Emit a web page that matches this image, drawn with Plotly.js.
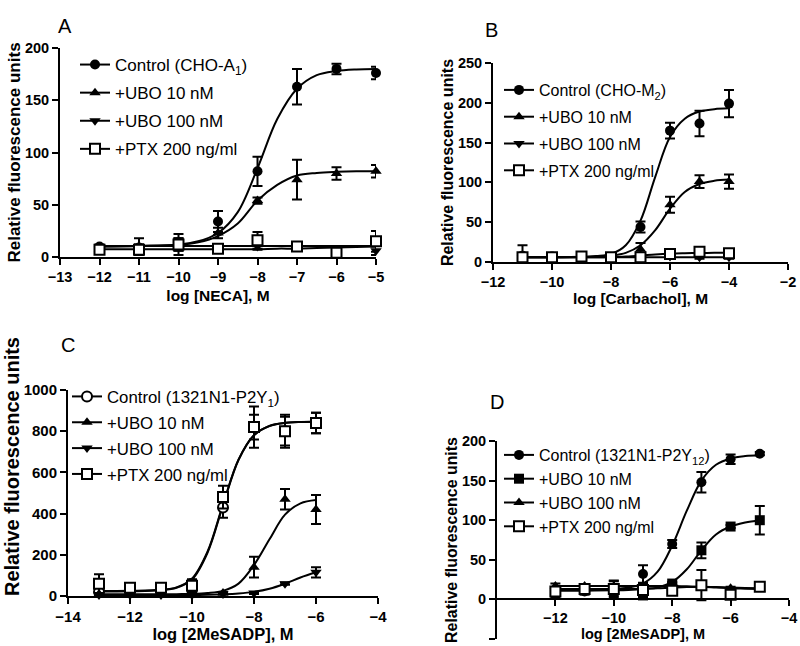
<!DOCTYPE html>
<html>
<head>
<meta charset="utf-8">
<script src="https://cdn.plot.ly/plotly-3.0.1.min.js"></script>
<style>html,body{margin:0;padding:0;background:#fff}#chart{width:800px;height:646px}</style>
</head>
<body>
<div id="chart"></div>
<script>
// ---------------- Panel A : NECA ----------------
const xA = [-12, -11, -10, -9, -8, -7, -6, -5];
const A_ctrl = [10, 9, 14, 34, 82, 163, 180, 176];
const A_ctrl_err = [2, 3, 8, 10, 14, 17, 5, 6];
const A_ubo10 = [8, 9, 12, 23, 54, 74, 80, 82];
const A_ubo10_err = [2, 3, 5, 5, 3, 19, 6, 6];
const A_ubo100 = [8, 10, 10, 8, 10, 10, 8, 6];
const A_ubo100_err = [2, 8, 8, 2, 3, 2, 2, 4];
const A_ptx = [7, 7, 12, 8, 16, 10, 4, 15];
const A_ptx_err = [2, 3, 6, 2, 8, 2, 3, 10];
const xcA = [-12, -11, -10, -9.5, -9, -8.5, -8, -7.5, -7, -6.5, -6, -5.5, -5];
const A_ctrl_fit = [10, 10.5, 12, 15, 23, 43, 85, 132, 161, 174, 178, 179.5, 180];
const A_ubo10_fit = [10, 10.5, 11.5, 14, 20, 32, 54, 69, 78, 80.5, 81.5, 82, 82];
const A_ubo100_fit = [7.5, 7.5, 7.5, 7.5, 7.5, 7.5, 7.5, 8, 8, 8.5, 9, 9.5, 10];
const A_ptx_fit = [10.5, 10.5, 10.5, 10.5, 10.5, 10.5, 10.5, 10.5, 10.5, 10.5, 10.5, 10.5, 10.5];

// ---------------- Panel B : Carbachol ----------------
const xB = [-11, -10, -9, -8, -7, -6, -5, -4];
const B_ctrl = [8, 7, 7, 6, 44, 165, 174, 199];
const B_ctrl_err = [13, 2, 3, 2, 7, 10, 16, 17];
const B_ubo10 = [5, 6, 6, 5, 16, 72, 101, 101];
const B_ubo10_err = [2, 2, 2, 2, 8, 10, 8, 9];
const B_ubo100 = [5, 6, 6, 5, 5, 7, 6, 6];
const B_ubo100_err = [2, 2, 2, 2, 2, 2, 2, 2];
const B_ptx = [6, 6, 7, 6, 6, 10, 13, 11];
const B_ptx_err = [3, 2, 2, 2, 2, 2, 2, 2];
const xcB = [-11, -10, -9, -8.5, -8, -7.5, -7, -6.5, -6, -5.5, -5, -4.5, -4];
const B_ctrl_fit = [6, 6, 6.5, 7.5, 10, 21, 52, 107, 157, 180, 189, 192, 193];
const B_ubo10_fit = [6, 6, 6.3, 6.8, 8, 11.5, 21, 40, 67, 88, 98, 102, 103.5];
const B_ubo100_fit = [6, 6, 6, 6, 6, 6, 6, 6, 6, 6, 6, 6, 6];
const B_ptx_fit = [6, 6, 6, 6, 6.2, 6.8, 8, 9.5, 10.5, 11, 11.3, 11.5, 11.5];

// ---------------- Panel C : 2MeSADP (P2Y1) ----------------
const xC = [-13, -12, -11, -10, -9, -8, -7, -6];
const C_ctrl = [20, 30, 30, 60, 430, 820, 800, 840];
const C_ctrl_err = [20, 10, 10, 20, 50, 60, 70, 50];
const C_ubo10 = [10, 10, 10, 20, 15, 140, 470, 420];
const C_ubo10_err = [5, 5, 5, 10, 5, 50, 50, 70];
const C_ubo100 = [5, 5, 5, 5, 10, 15, 60, 115];
const C_ubo100_err = [3, 3, 3, 3, 3, 5, 5, 25];
const C_ptx = [60, 40, 40, 50, 480, 820, 800, 840];
const C_ptx_err = [45, 10, 10, 30, 55, 100, 80, 50];
const xcC = [-13, -12, -11, -10.5, -10, -9.5, -9, -8.5, -8, -7.5, -7, -6.5, -6];
const C_ctrl_fit = [22, 23, 28, 40, 80, 210, 440, 660, 780, 825, 840, 845, 846];
const C_ptx_fit = [24, 25, 30, 42, 84, 215, 445, 662, 781, 826, 841, 845, 846];
const C_ubo10_fit = [8, 8, 8, 9, 10, 14, 25, 60, 150, 275, 395, 450, 466];
const C_ubo100_fit = [5, 5, 5, 5, 5, 6, 8, 12, 20, 35, 60, 90, 115];

// ---------------- Panel D : 2MeSADP (P2Y12) ----------------
const xD = [-12, -11, -10, -9, -8, -7, -6, -5];
const D_ctrl = [10, 10, 11, 32, 70, 148, 177, 184];
const D_ctrl_err = [2, 2, 3, 11, 5, 13, 6, 2];
const D_ubo10 = [8, 11, 10, 5, 20, 62, 92, 100];
const D_ubo10_err = [3, 2, 2, 3, 2, 10, 2, 18];
const D_ubo100 = [17, 17, 16, 17, 17, 16, 14, 13];
const D_ubo100_err = [3, 2, 8, 3, 3, 3, 2, 2];
const D_ptx = [10, 13, 13, 12, 11, 18, 6, 16];
const D_ptx_err = [2, 2, 10, 2, 2, 19, 3, 2];
const xcD = [-12, -11, -10, -9.5, -9, -8.5, -8, -7.5, -7, -6.5, -6, -5.5, -5];
const D_ctrl_fit = [12, 12, 13, 15, 20, 35, 68, 112, 150, 170, 178, 181, 182];
const D_ubo10_fit = [11, 11, 11.5, 12, 13, 15, 22, 38, 62, 82, 92, 97, 100];
const D_ubo100_fit = [17, 17, 17, 17, 17, 17, 17, 16.5, 16, 15, 14, 13.5, 13];
const D_ptx_fit = [13, 13, 13, 13, 13.5, 14, 15, 15.5, 16, 15.5, 15, 14.5, 14];

// ---------------- Labels ----------------
const legA = ['Control (CHO-A<sub>1</sub>)', '+UBO 10 nM', '+UBO 100 nM', '+PTX 200 ng/ml'];
const legB = ['Control (CHO-M<sub>2</sub>)', '+UBO 10 nM', '+UBO 100 nM', '+PTX 200 ng/ml'];
const legC = ['Control (1321N1-P2Y<sub>1</sub>)', '+UBO 10 nM', '+UBO 100 nM', '+PTX 200 ng/ml'];
const legD = ['Control (1321N1-P2Y<sub>12</sub>)', '+UBO 10 nM', '+UBO 100 nM', '+PTX 200 ng/ml'];
const xTitles = ['log [NECA], M', 'log [Carbachol], M', 'log [2MeSADP], M', 'log [2MeSADP], M'];
const yTitle = 'Relative fluorescence units';
const panelLetters = ['A', 'B', 'C', 'D'];

// ---------------- Build traces ----------------
const FONT = 'Liberation Sans, Arial, Helvetica, sans-serif';
const traces = [];

function markerStyle(sym) {
  if (sym === 'square-open') return {symbol: 'square', size: 10, color: 'white', line: {color: 'black', width: 2}};
  if (sym === 'circle-open') return {symbol: 'circle', size: 10, color: 'white', line: {color: 'black', width: 2}};
  return {symbol: sym, size: 10, color: 'black', line: {color: 'black', width: 0}};
}

function addPanel(n, x, xc, series, legendNames, symbols) {
  const xa = 'x' + (n === 1 ? '' : n), ya = 'y' + (n === 1 ? '' : n);
  const legendId = n === 1 ? 'legend' : 'legend' + n;
  series.forEach((s) => {
    traces.push({type: 'scatter', mode: 'lines', x: xc, y: s.fit, xaxis: xa, yaxis: ya,
      line: {color: 'black', width: 2, shape: 'spline', smoothing: 1}, showlegend: false, hoverinfo: 'skip', cliponaxis: false});
  });
  series.forEach((s, i) => {
    traces.push({type: 'scatter', mode: 'markers', x: x, y: s.y, xaxis: xa, yaxis: ya,
      error_y: {type: 'data', array: s.err, visible: true, color: 'black', thickness: 2, width: 5},
      marker: markerStyle(symbols[i]), showlegend: false, cliponaxis: false});
  });
  series.forEach((s, i) => {
    traces.push({type: 'scatter', mode: 'lines+markers', x: [null], y: [null], xaxis: xa, yaxis: ya,
      name: legendNames[i], legend: legendId, legendgroup: 'p' + n + 's' + i,
      line: {color: 'black', width: 2}, marker: markerStyle(symbols[i]), showlegend: true});
  });
}

addPanel(1, xA, xcA, [
  {y: A_ctrl, err: A_ctrl_err, fit: A_ctrl_fit},
  {y: A_ubo10, err: A_ubo10_err, fit: A_ubo10_fit},
  {y: A_ubo100, err: A_ubo100_err, fit: A_ubo100_fit},
  {y: A_ptx, err: A_ptx_err, fit: A_ptx_fit}], legA, ['circle', 'triangle-up', 'triangle-down', 'square-open']);
addPanel(2, xB, xcB, [
  {y: B_ctrl, err: B_ctrl_err, fit: B_ctrl_fit},
  {y: B_ubo10, err: B_ubo10_err, fit: B_ubo10_fit},
  {y: B_ubo100, err: B_ubo100_err, fit: B_ubo100_fit},
  {y: B_ptx, err: B_ptx_err, fit: B_ptx_fit}], legB, ['circle', 'triangle-up', 'triangle-down', 'square-open']);
addPanel(3, xC, xcC, [
  {y: C_ctrl, err: C_ctrl_err, fit: C_ctrl_fit},
  {y: C_ubo10, err: C_ubo10_err, fit: C_ubo10_fit},
  {y: C_ubo100, err: C_ubo100_err, fit: C_ubo100_fit},
  {y: C_ptx, err: C_ptx_err, fit: C_ptx_fit}], legC, ['circle-open', 'triangle-up', 'triangle-down', 'square-open']);
addPanel(4, xD, xcD, [
  {y: D_ctrl, err: D_ctrl_err, fit: D_ctrl_fit},
  {y: D_ubo10, err: D_ubo10_err, fit: D_ubo10_fit},
  {y: D_ubo100, err: D_ubo100_err, fit: D_ubo100_fit},
  {y: D_ptx, err: D_ptx_err, fit: D_ptx_fit}], legD, ['circle', 'square', 'triangle-up', 'square-open']);

// ---------------- Layout ----------------
const W = 800, H = 646;
function px2x(p) { return p / W; }
function px2y(p) { return 1 - p / H; }

function xAxis(domain, range, tickvals, title, anchor, tick, ttl, standoff, extra) {
  return Object.assign({
    domain: domain, range: range, tickvals: tickvals, anchor: anchor,
    showline: true, linewidth: 2, linecolor: 'black', ticks: 'outside', ticklen: 6, tickwidth: 2, tickcolor: 'black',
    showgrid: false, zeroline: false, automargin: false,
    tickfont: {family: FONT, size: tick, color: 'black', weight: 'bold'},
    title: {text: title, font: {family: FONT, size: ttl, color: 'black', weight: 'bold'}, standoff: standoff}
  }, extra || {});
}
function yAxis(domain, range, tickvals, anchor, tick, ttl, titleText) {
  return {
    domain: domain, range: range, tickvals: tickvals, anchor: anchor,
    showline: true, linewidth: 2, linecolor: 'black', ticks: 'outside', ticklen: 6, tickwidth: 2, tickcolor: 'black',
    showgrid: false, zeroline: false, automargin: false,
    tickfont: {family: FONT, size: tick, color: 'black', weight: 'bold'},
    title: {text: titleText, font: {family: FONT, size: ttl, color: 'black', weight: 'bold'}, standoff: 0}
  };
}
function legendAt(xpx, ypx, gap, size) {
  return {x: px2x(xpx), y: px2y(ypx), xanchor: 'left', yanchor: 'top', bgcolor: 'rgba(0,0,0,0)',
    borderwidth: 0, font: {family: FONT, size: size, color: 'black'}, tracegroupgap: gap, itemwidth: 30};
}
function letter(t, xp, yp) {
  return {text: t, x: px2x(xp), y: px2y(yp), xref: 'paper', yref: 'paper', showarrow: false,
    font: {family: FONT, size: 20, color: 'black'}};
}

const layout = {
  width: W, height: H, margin: {l: 0, r: 0, t: 0, b: 0},
  paper_bgcolor: 'white', plot_bgcolor: 'rgba(0,0,0,0)',
  font: {family: FONT, color: 'black'},
  showlegend: true,
  xaxis: xAxis([px2x(60), px2x(376)], [-13, -5], [-13, -12, -11, -10, -9, -8, -7, -6, -5], xTitles[0], 'y', 14.5, 15.5, 6),
  yaxis: yAxis([px2y(257), px2y(48)], [0, 200], [0, 50, 100, 150, 200], 'x', 14.5, 17, yTitle),
  xaxis2: xAxis([px2x(493), px2x(788)], [-12, -2], [-12, -10, -8, -6, -4, -2], xTitles[1], 'y2', 14.5, 15.5, 4),
  yaxis2: yAxis([px2y(262), px2y(63)], [0, 250], [0, 50, 100, 150, 200, 250], 'x2', 14.5, 16, yTitle),
  xaxis3: xAxis([px2x(68), px2x(378)], [-14, -4], [-14, -12, -10, -8, -6, -4], xTitles[2], 'y3', 15, 16.5, 3),
  yaxis3: yAxis([px2y(596), px2y(390)], [0, 1000], [0, 200, 400, 600, 800, 1000], 'x3', 15, 20, ''),
  xaxis4: xAxis([px2x(497), px2x(789)], [-14, -4], [-12, -10, -8, -6, -4], xTitles[3], 'free', 14.5, 14.5, 2, {position: px2y(599)}),
  yaxis4: yAxis([px2y(639), px2y(441)], [-50, 200], [-50, 0, 50, 100, 150, 200], 'x4', 14.5, 15.9, yTitle),
  legend: legendAt(75, 47, 3, 17),
  legend2: legendAt(499, 73, 3, 16),
  legend3: legendAt(67, 379, 1, 16.8),
  legend4: legendAt(499, 438, 0, 16),
  annotations: [
    letter(panelLetters[0], 56, 13),
    letter(panelLetters[1], 491, 17),
    letter(panelLetters[2], 59, 345),
    letter(panelLetters[3], 497, 402),
    // panel C y-axis title sits higher than the plot centre in the reference
    {text: yTitle, textangle: -90, x: px2x(12), y: px2y(467), xref: 'paper', yref: 'paper', showarrow: false,
      xanchor: 'center', yanchor: 'middle', font: {family: FONT, size: 20, color: 'black', weight: 'bold'}}
  ]
};

Plotly.newPlot('chart', traces, layout, {staticPlot: true, displayModeBar: false});
</script>
</body>
</html>
